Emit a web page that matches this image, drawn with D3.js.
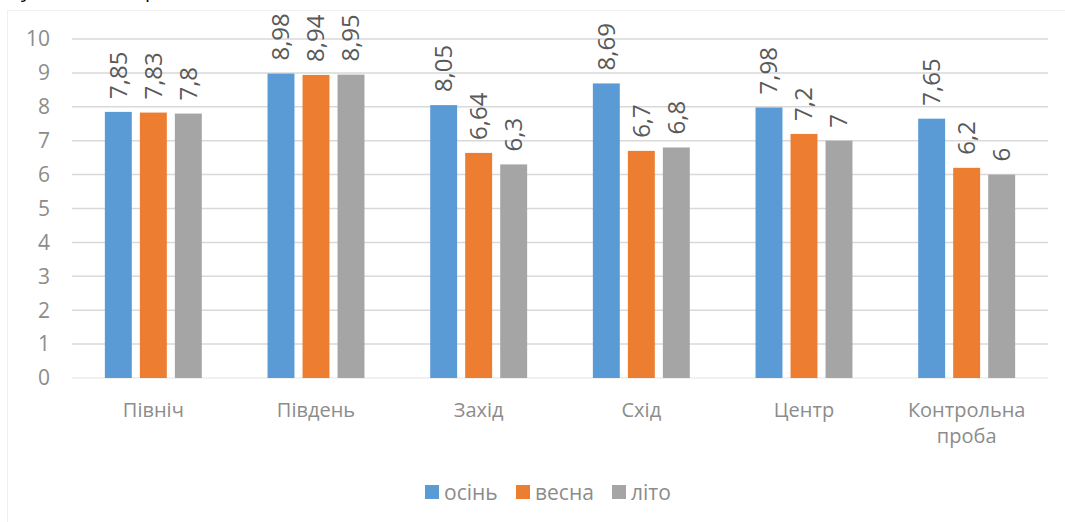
<!DOCTYPE html>
<html lang="uk">
<head>
<meta charset="utf-8">
<title>Сезонні показники</title>
<style>
  body { margin: 0; background: #fff; }
  svg { display: block; }
  text { font-family: "Open Sans", sans-serif; }
  .tick-label { fill: #8c8c8c; font-size: 21px; }
  .cat-label { fill: #8c8c8c; font-size: 20px; }
  .val-label { fill: #595959; font-size: 24px; }
  .legend-label { fill: #8c8c8c; font-size: 21px; }
</style>
</head>
<body>
<div id="chart"></div>
<script src="https://d3js.org/d3.v7.min.js"></script>
<script>
const categories = [["Північ"], ["Південь"], ["Захід"], ["Схід"], ["Центр"], ["Контрольна", "проба"]];
const seasons = ["осінь", "весна", "літо"];
const autumn = [7.85, 8.98, 8.05, 8.69, 7.98, 7.65];
const spring = [7.83, 8.94, 6.64, 6.7, 7.2, 6.2];
const summer = [7.8, 8.95, 6.3, 6.8, 7, 6];
const yTicks = [0, 1, 2, 3, 4, 5, 6, 7, 8, 9, 10];
const colors = ["#5b9bd5", "#ed7d31", "#a5a5a5"];

const series = [autumn, spring, summer];
const rows = categories.map((c, i) => ({
  key: c.join(" "),
  lines: c,
  values: seasons.map((s, j) => ({ season: s, value: series[j][i] }))
}));

const W = 1065, H = 522;
const svg = d3.select("#chart").append("svg").attr("width", W).attr("height", H);

// page text above the chart, cut off at the top edge
svg.append("text").attr("x", 21).attr("y", -3).attr("font-family", "Liberation Serif")
  .attr("font-size", 20).attr("fill", "#000").text("у");
svg.append("text").attr("x", 145).attr("y", -3).attr("font-family", "Liberation Serif")
  .attr("font-size", 20).attr("fill", "#000").text("р");

// chart frame
svg.append("rect").attr("x", 7.5).attr("y", 10.5).attr("width", W).attr("height", H)
  .attr("fill", "none").attr("stroke", "#f0f0f0");

const plotL = 72, plotR = 1048, plotT = 39, plotB = 378;

const y = d3.scaleLinear().domain([0, 10]).range([plotB, plotT]);
const x0 = d3.scaleBand().domain(rows.map(d => d.key)).range([plotL, plotR]).paddingInner(0.404).paddingOuter(0.202);
const x1 = d3.scaleBand().domain(seasons).range([0, x0.bandwidth()]).paddingInner(0.23);
const color = d3.scaleOrdinal().domain(seasons).range(colors);

// gridlines
svg.append("g").selectAll("line").data(yTicks).join("line")
  .attr("x1", plotL).attr("x2", plotR)
  .attr("y1", d => y(d)).attr("y2", d => y(d))
  .attr("stroke", d => d === 0 ? "#ececec" : "#d9d9d9").attr("stroke-width", 1.5);

svg.append("g").selectAll("text").data(yTicks).join("text")
  .attr("class", "tick-label")
  .attr("x", 50).attr("y", d => y(d)).attr("dy", "0.35em")
  .attr("text-anchor", "end").text(d => d);

// bars
const groups = svg.append("g").selectAll("g").data(rows).join("g")
  .attr("transform", d => `translate(${x0(d.key)},0)`);

groups.selectAll("rect").data(d => d.values).join("rect")
  .attr("x", d => x1(d.season)).attr("width", x1.bandwidth())
  .attr("y", d => y(d.value)).attr("height", d => y(0) - y(d.value))
  .attr("fill", d => color(d.season));

groups.selectAll("text.val-label").data(d => d.values).join("text")
  .attr("class", "val-label")
  .attr("transform", d => `translate(${x1(d.season) + x1.bandwidth() / 2},${y(d.value) - 13}) rotate(-90)`)
  .attr("dy", "0.35em")
  .text(d => String(d.value).replace(".", ","));

// category labels
const cats = svg.append("g").selectAll("text").data(rows).join("text")
  .attr("class", "cat-label").attr("text-anchor", "middle")
  .attr("x", d => x0(d.key) + x0.bandwidth() / 2).attr("y", 417);
cats.selectAll("tspan").data(d => d.lines).join("tspan")
  .attr("x", function () { return d3.select(this.parentNode).attr("x"); })
  .attr("dy", (d, i) => i === 0 ? 0 : 26).text(d => d);

// legend
const legendX = [425, 516, 612];
const lg = svg.append("g").selectAll("g").data(seasons).join("g")
  .attr("transform", (d, i) => `translate(${legendX[i]},485)`);
lg.append("rect").attr("width", 14).attr("height", 14).attr("fill", d => color(d));
lg.append("text").attr("class", "legend-label").attr("x", 19).attr("y", 15).text(d => d);
</script>
</body>
</html>
